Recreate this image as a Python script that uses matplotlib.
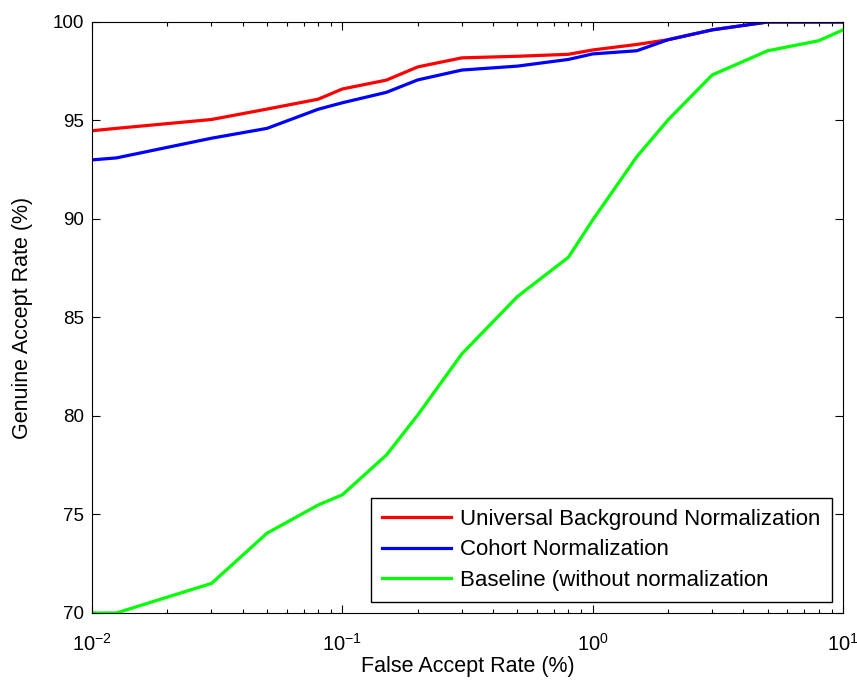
import matplotlib
matplotlib.use('Agg')
import matplotlib.pyplot as plt
from matplotlib.ticker import LogLocator, NullFormatter, FuncFormatter
import numpy as np

# false accept rate (%) sample points
far = [0.01, 0.0125, 0.03, 0.05, 0.08, 0.1, 0.15, 0.2, 0.3, 0.5, 0.8, 1.0, 1.5, 2.0, 3.0, 5.0, 8.0, 10.0]

# genuine accept rate (%) per method
gar_ubn = [94.48, 94.6, 95.05, 95.58, 96.08, 96.6, 97.05, 97.72, 98.18, 98.26, 98.36, 98.58, 98.86, 99.1, 99.6, 100.0, 100.0, 100.0]
gar_cohort = [93.0, 93.1, 94.1, 94.6, 95.57, 95.9, 96.43, 97.06, 97.56, 97.76, 98.1, 98.38, 98.54, 99.1, 99.6, 100.0, 100.0, 100.0]
gar_base = [70.0, 70.0, 71.5, 74.05, 75.48, 76.0, 78.02, 80.05, 83.15, 86.06, 88.06, 89.95, 93.16, 95.03, 97.31, 98.54, 99.05, 99.6]

labels = ['Universal Background Normalization', 'Cohort Normalization',
          'Baseline (without normalization']

plt.rcParams['font.family'] = ['Liberation Sans', 'DejaVu Sans']
plt.rcParams['mathtext.fontset'] = 'custom'
plt.rcParams['mathtext.rm'] = 'Liberation Sans'
plt.rcParams['axes.unicode_minus'] = False

fig = plt.figure(figsize=(8.57, 6.81), dpi=100)
ax = fig.add_axes([0.1074, 0.0999, 0.8763, 0.8678])

ax.plot(far, gar_ubn, color='#ff0000', lw=2.3, label=labels[0])
ax.plot(far, gar_cohort, color='#0000ff', lw=2.3, label=labels[1])
ax.plot(far, gar_base, color='#00ff00', lw=2.3, label=labels[2])

ax.set_xscale('log')
ax.set_xlim(0.01, 10)
ax.set_ylim(70, 100)
ax.set_yticks([70, 75, 80, 85, 90, 95, 100])
ax.xaxis.set_minor_locator(LogLocator(base=10, subs=range(2, 10)))
ax.xaxis.set_minor_formatter(NullFormatter())
ax.xaxis.set_major_formatter(FuncFormatter(
    lambda v, p: r'$\mathregular{10^{%d}}$' % int(round(np.log10(v)))))
ax.tick_params(which='both', direction='in', top=True, right=True, labelsize=13.5)
ax.tick_params(which='major', length=6, width=0.8)
ax.tick_params(which='minor', length=3, width=0.8)
ax.tick_params(axis='x', pad=14, labelsize=14.5)
ax.tick_params(axis='y', pad=6)

ax.set_xlabel('False Accept Rate (%)', fontsize=15.5, labelpad=1)
ax.set_ylabel('Genuine Accept Rate (%)', fontsize=15.5, labelpad=14)

leg = ax.legend(loc='lower right', fontsize=16, frameon=True, fancybox=False,
                edgecolor='black', framealpha=1, handlelength=3.1,
                handletextpad=0.42, borderaxespad=0.5, labelspacing=0.42,
                borderpad=0.5)
leg.get_frame().set_linewidth(1.0)

fig.savefig('out.png', dpi=100)
